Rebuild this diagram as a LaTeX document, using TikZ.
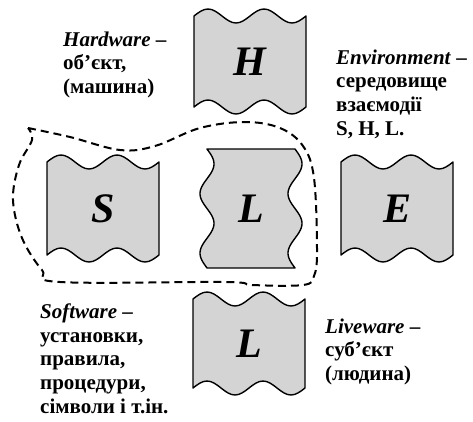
\documentclass[tikz,border=0pt]{standalone}
\usepackage{fontspec}
\setmainfont{Liberation Serif}
\tikzset{
  tape/.style={draw, fill=black!17, line width=1.4pt, line join=round},
  letter/.style={font=\fontsize{42}{42}\selectfont\bfseries\itshape},
  note/.style={anchor=north west, inner sep=0pt, align=left,
    font=\fontsize{21}{23.7}\selectfont\bfseries},
  zone/.style={line width=2pt, dash pattern=on 8pt off 5pt}
}

\begin{document}
\begin{tikzpicture}[x=1pt,y=-1pt]
\useasboundingbox (0,0) rectangle (473,421);
\foreach \x/\y/\hh/\n/\txt in {194/16/91/hw/H, 47/162/93/sw/S, 341/162/93/env/E, 193/299/89/lw/L}{
  \draw[tape] (\x,\y)
     sin ++(14,-7) cos ++(14,7) sin ++(14,7) cos ++(14,-7)
     sin ++(14,-7) cos ++(14,7) sin ++(14,7) cos ++(14,-7)
     -- ++(0,\hh)
     sin ++(-14,7) cos ++(-14,-7) sin ++(-14,-7) cos ++(-14,7)
     sin ++(-14,7) cos ++(-14,-7) sin ++(-14,-7) cos ++(-14,7)
     -- cycle;
  \node[letter] (\n) at (\x+56,\y+\hh/2) {\txt};
}
\draw[tape] (207,149) -- (295,149)
   -- plot[domain=0:119, samples=61, smooth] ({295+7*sin(6.0504*\x)}, {149+\x})
   -- (207,268)
   -- plot[domain=119:0, samples=61, smooth] ({207+7*sin(6.0504*\x)}, {149+\x})
   -- cycle;
\node[letter] (core) at (251,208.5) {L};

\draw[zone] plot[smooth, tension=0.6] coordinates {(28,128) (70,137) (120,150)
   (155,146) (200,128) (245,122) (280,128) (303,146) (314,178) (317,250)
   (314,276) (303,285) (252,285) (225,282) (60,282) (42,270) (22,238)
   (13,200) (19,165) (32,140) (28,128)};

\node[note] (hwtext) at (63,31.5) {\textit{Hardware} –\\об’єкт,\\(машина)};
\node[note] (envtext) at (336,49.5) {\textit{Environment} –\\середовище\\взаємодії\\S, H, L.};
\node[note] (swtext) at (40,303.5) {\textit{Software} –\\установки,\\правила,\\процедури,\\сімволи і т.ін.};
\node[note] (lwtext) at (325,318.5) {\textit{Liveware} –\\суб’єкт\\(людина)};
\end{tikzpicture}
\end{document}
